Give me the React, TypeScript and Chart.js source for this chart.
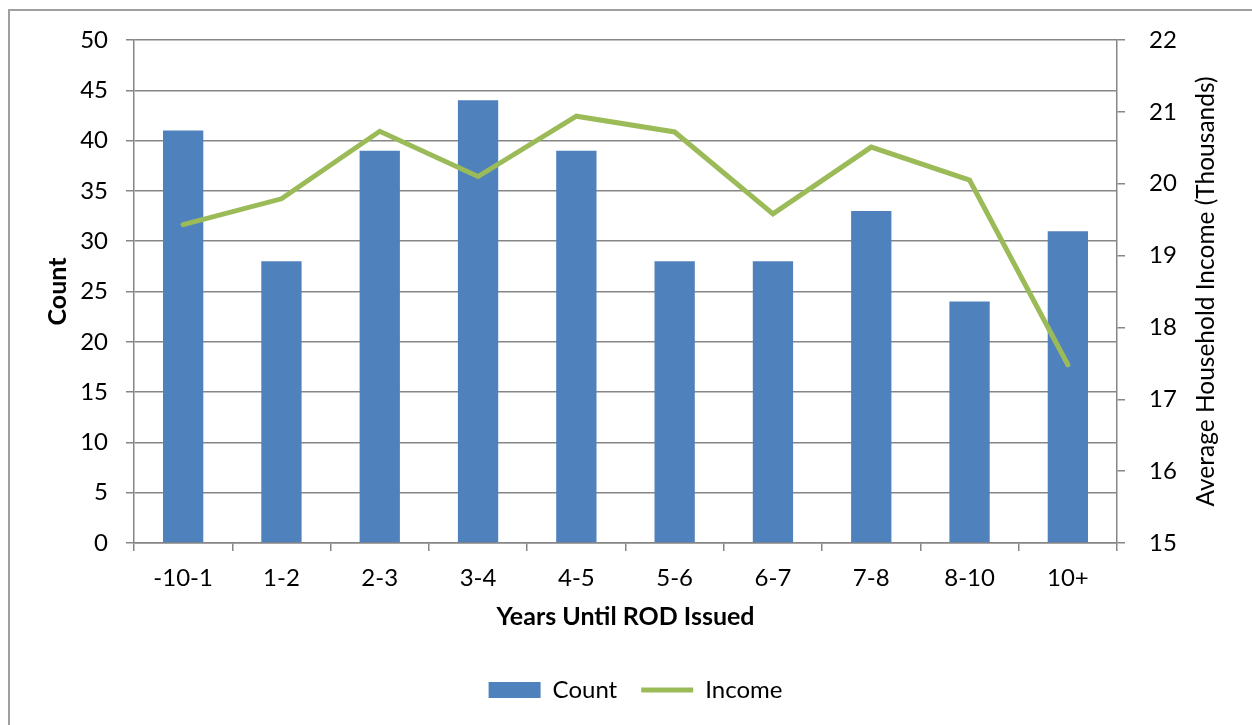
import React, { useEffect, useRef } from "react";
import { Chart, registerables } from "chart.js";

Chart.register(...registerables);

const categories = ["-10-1", "1-2", "2-3", "3-4", "4-5", "5-6", "6-7", "7-8", "8-10", "10+"];
const countValues = [41, 28, 39, 44, 39, 28, 28, 33, 24, 31];
const incomeValues = [19.43, 19.79, 20.73, 20.1, 20.94, 20.72, 19.58, 20.51, 20.05, 17.48];
const xTitle = "Years Until ROD Issued";
const yTitle = "Count";
const y1Title = "Average Household Income (Thousands)";

const FONT = "Lato, 'Liberation Sans', sans-serif";
const GRID = "#868686";

const rightTitlePlugin = {
  id: "rightTitle",
  afterDraw(chart: any) {
    const { ctx, chartArea } = chart;
    ctx.save();
    ctx.font = `24.5px ${FONT}`;
    ctx.fillStyle = "#000";
    ctx.textAlign = "center";
    ctx.textBaseline = "middle";
    ctx.translate(1206, (chartArea.top + chartArea.bottom) / 2);
    ctx.rotate(-Math.PI / 2);
    ctx.fillText(y1Title, 0, 0);
    ctx.restore();
  },
};

export default function App() {
  const ref = useRef<HTMLCanvasElement | null>(null);
  useEffect(() => {
    if (!ref.current) return;
    const chart = new Chart(ref.current, {
      type: "bar",
      data: {
        labels: categories,
        datasets: [
          {
            type: "bar",
            label: "Count",
            data: countValues,
            backgroundColor: "#4F81BD",
            borderWidth: 0,
            barPercentage: 0.41,
            categoryPercentage: 1,
            yAxisID: "y",
            order: 1,
            pointStyle: "rect",
          } as any,
          {
            type: "line",
            label: "Income",
            data: incomeValues,
            borderColor: "#9BBB59",
            backgroundColor: "#9BBB59",
            borderWidth: 5,
            pointRadius: 0,
            tension: 0,
            yAxisID: "y1",
            order: 0,
            pointStyle: "line",
            borderCapStyle: "round",
          } as any,
        ],
      },
      options: {
        responsive: false,
        animation: false,
        layout: { padding: { left: 39, right: 20, top: 40, bottom: 13 } },
        plugins: {
          tooltip: { enabled: false },
          legend: {
            position: "bottom",
            labels: {
              usePointStyle: true,
              pointStyleWidth: 52,
              boxWidth: 52,
              boxHeight: 16,
              padding: 24,
              color: "#000",
              font: { family: FONT, size: 24 },
              sort: (a: any, b: any) => a.datasetIndex - b.datasetIndex,
            },
          },
        },
        scales: {
          x: {
            grid: { display: true, drawOnChartArea: false, drawTicks: true, tickLength: 8, offset: true, color: GRID, lineWidth: 1.5 },
            border: { display: true, color: GRID, width: 1.5 },
            ticks: { color: "#000", font: { family: FONT, size: 24 }, padding: 13, maxRotation: 0 },
            title: { display: true, text: xTitle, color: "#000", font: { family: FONT, size: 25, weight: "bold" }, padding: { top: 4, bottom: 22 } },
            afterFit: (s: any) => { s.height = 111; },
          },
          y: {
            position: "left",
            min: 0,
            max: 50,
            ticks: { stepSize: 5, color: "#000", font: { family: FONT, size: 24 }, padding: 18 },
            grid: { color: GRID, lineWidth: 1.5, tickLength: 8 },
            border: { display: true, color: GRID, width: 1.5 },
            title: { display: true, text: yTitle, color: "#000", font: { family: FONT, size: 25, weight: "bold" }, padding: { top: 4, bottom: 4 } },
            afterFit: (s: any) => { s.width = 95; },
          },
          y1: {
            position: "right",
            min: 15,
            max: 22,
            ticks: { stepSize: 1, color: "#000", font: { family: FONT, size: 24 }, padding: 24 },
            grid: { drawOnChartArea: false, color: GRID, lineWidth: 1.5, tickLength: 8 },
            border: { display: true, color: GRID, width: 1.5 },
            afterFit: (s: any) => { s.width = 115; },
          },
        },
      },
      plugins: [rightTitlePlugin],
    });
    return () => chart.destroy();
  }, []);

  return (
    <div style={{ position: "fixed", left: 0, top: 0, width: 1252, height: 725, overflow: "hidden", background: "#fff" }}>
      <div style={{ position: "absolute", left: 8, top: 9, width: 1280, height: 760, border: "2px solid #A0A0A0", boxSizing: "border-box" }} />
      <canvas ref={ref} width={1252} height={725} style={{ position: "absolute", left: 0, top: 0, width: 1252, height: 725 }} />
    </div>
  );
}
